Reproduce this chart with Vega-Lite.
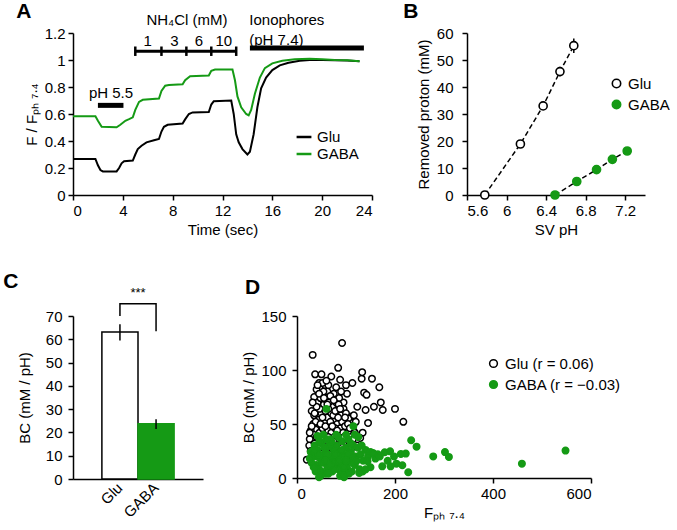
{
  "$schema": "https://vega.github.io/schema/vega-lite/v6.json",
  "background": "white",
  "padding": {"left": 3, "top": 0, "right": 0, "bottom": 3},
  "config": {
    "font": "Liberation Sans",
    "view": {"stroke": null},
    "axis": {"grid": false, "labelOverlap": false, "labelFontSize": 15, "titleFontSize": 15, "titleFontWeight": "normal", "labelColor": "black", "titleColor": "black", "domainColor": "black", "tickColor": "black", "domainWidth": 1.5, "tickWidth": 1.5, "tickSize": 5, "labelPadding": 3},
    "legend": {"labelFontSize": 15, "labelColor": "black"},
    "title": {"fontSize": 21, "fontWeight": "bold", "anchor": "start", "frame": "bounds", "color": "black"}
  },
  "resolve": {"scale": {"color": "independent", "fill": "independent", "stroke": "independent"}, "legend": {"color": "independent", "fill": "independent", "stroke": "independent"}},
  "spacing": 33,
  "vconcat": [
    {
      "spacing": 30,
      "resolve": {"scale": {"color": "independent", "fill": "independent", "stroke": "independent"}, "legend": {"color": "independent", "fill": "independent", "stroke": "independent"}},
      "hconcat": [
        {
          "title": {"text": "A", "dy": 13, "dx": -8},
          "width": 299, "height": 162,
          "layer": [
            {
              "data": {"values": [
                {"t":0,"v":0.267,"s":"Glu"},{"t":1.8,"v":0.267,"s":"Glu"},{"t":2.0,"v":0.22,"s":"Glu"},{"t":2.2,"v":0.185,"s":"Glu"},{"t":2.4,"v":0.175,"s":"Glu"},{"t":3.5,"v":0.175,"s":"Glu"},{"t":3.7,"v":0.2,"s":"Glu"},{"t":3.9,"v":0.235,"s":"Glu"},{"t":4.1,"v":0.25,"s":"Glu"},{"t":4.8,"v":0.255,"s":"Glu"},{"t":5.0,"v":0.3,"s":"Glu"},{"t":5.2,"v":0.34,"s":"Glu"},{"t":5.5,"v":0.365,"s":"Glu"},{"t":5.9,"v":0.39,"s":"Glu"},{"t":6.5,"v":0.405,"s":"Glu"},{"t":6.9,"v":0.415,"s":"Glu"},{"t":7.1,"v":0.47,"s":"Glu"},{"t":7.3,"v":0.505,"s":"Glu"},{"t":7.6,"v":0.52,"s":"Glu"},{"t":8.8,"v":0.53,"s":"Glu"},{"t":9.0,"v":0.56,"s":"Glu"},{"t":9.3,"v":0.6,"s":"Glu"},{"t":9.6,"v":0.612,"s":"Glu"},{"t":10.9,"v":0.615,"s":"Glu"},{"t":11.1,"v":0.67,"s":"Glu"},{"t":11.3,"v":0.695,"s":"Glu"},{"t":12.7,"v":0.7,"s":"Glu"},{"t":12.9,"v":0.6,"s":"Glu"},{"t":13.1,"v":0.45,"s":"Glu"},{"t":13.3,"v":0.39,"s":"Glu"},{"t":13.6,"v":0.34,"s":"Glu"},{"t":14.0,"v":0.3,"s":"Glu"},{"t":14.2,"v":0.32,"s":"Glu"},{"t":14.5,"v":0.45,"s":"Glu"},{"t":14.8,"v":0.65,"s":"Glu"},{"t":15.1,"v":0.79,"s":"Glu"},{"t":15.5,"v":0.87,"s":"Glu"},{"t":16.0,"v":0.925,"s":"Glu"},{"t":16.6,"v":0.96,"s":"Glu"},{"t":17.3,"v":0.98,"s":"Glu"},{"t":18.2,"v":0.995,"s":"Glu"},{"t":19,"v":1.0,"s":"Glu"},{"t":20,"v":1.0,"s":"Glu"},{"t":21,"v":0.998,"s":"Glu"},{"t":22,"v":0.997,"s":"Glu"},{"t":23,"v":0.99,"s":"Glu"},
                {"t":0,"v":0.583,"s":"GABA"},{"t":1.8,"v":0.583,"s":"GABA"},{"t":2.0,"v":0.55,"s":"GABA"},{"t":2.3,"v":0.505,"s":"GABA"},{"t":3.5,"v":0.502,"s":"GABA"},{"t":3.8,"v":0.52,"s":"GABA"},{"t":4.2,"v":0.55,"s":"GABA"},{"t":4.5,"v":0.562,"s":"GABA"},{"t":4.8,"v":0.575,"s":"GABA"},{"t":5.0,"v":0.63,"s":"GABA"},{"t":5.3,"v":0.69,"s":"GABA"},{"t":5.6,"v":0.705,"s":"GABA"},{"t":6.9,"v":0.715,"s":"GABA"},{"t":7.1,"v":0.77,"s":"GABA"},{"t":7.4,"v":0.81,"s":"GABA"},{"t":7.7,"v":0.815,"s":"GABA"},{"t":8.8,"v":0.82,"s":"GABA"},{"t":9.0,"v":0.85,"s":"GABA"},{"t":9.4,"v":0.88,"s":"GABA"},{"t":10.9,"v":0.885,"s":"GABA"},{"t":11.1,"v":0.92,"s":"GABA"},{"t":11.4,"v":0.93,"s":"GABA"},{"t":12.8,"v":0.93,"s":"GABA"},{"t":13.0,"v":0.85,"s":"GABA"},{"t":13.2,"v":0.73,"s":"GABA"},{"t":13.5,"v":0.65,"s":"GABA"},{"t":13.9,"v":0.6,"s":"GABA"},{"t":14.1,"v":0.59,"s":"GABA"},{"t":14.3,"v":0.63,"s":"GABA"},{"t":14.6,"v":0.75,"s":"GABA"},{"t":15.0,"v":0.87,"s":"GABA"},{"t":15.4,"v":0.94,"s":"GABA"},{"t":16.0,"v":0.975,"s":"GABA"},{"t":16.8,"v":0.995,"s":"GABA"},{"t":17.8,"v":1.005,"s":"GABA"},{"t":19,"v":1.01,"s":"GABA"},{"t":20,"v":1.005,"s":"GABA"},{"t":21,"v":1.0,"s":"GABA"},{"t":22,"v":0.998,"s":"GABA"},{"t":23,"v":0.99,"s":"GABA"}
              ]},
              "mark": {"type": "line", "strokeWidth": 2},
              "encoding": {
                "x": {"field": "t", "type": "quantitative", "scale": {"domain": [0, 24], "nice": false}, "axis": {"values": [0,4,8,12,16,20,24], "tickCount": 30, "labelOverlap": false, "title": "Time (sec)"}},
                "y": {"field": "v", "type": "quantitative", "scale": {"domain": [0, 1.2], "nice": false}, "axis": {"values": [0,0.2,0.4,0.6,0.8,1,1.2], "tickCount": 30, "labelOverlap": false, "labelExpr": "format(datum.value, '~g')", "title": "F / Fₚₕ ₇.₄", "titlePadding": 5, "labelPadding": 3}},
                "color": {"field": "s", "type": "nominal", "scale": {"domain": ["Glu", "GABA"], "range": ["black", "#159a15"]},
                  "legend": {"title": null, "orient": "none", "legendX": 222, "legendY": 95, "symbolType": "stroke", "symbolSize": 220, "symbolStrokeWidth": 2.5, "rowPadding": 0}}
              }
            },
            {
              "data": {"values": [
                {"x1": 2.0, "x2": 4.05, "y": 0.664, "w": 5},
                {"x1": 5.0, "x2": 13.1, "y": 1.064, "w": 3},
                {"x1": 14.2, "x2": 23.35, "y": 1.089, "w": 5}
              ]},
              "mark": {"type": "rule", "color": "black", "clip": false},
              "encoding": {
                "x": {"field": "x1", "type": "quantitative"},
                "x2": {"field": "x2"},
                "y": {"field": "y", "type": "quantitative"},
                "strokeWidth": {"field": "w", "type": "quantitative", "scale": null}
              }
            },
            {
              "data": {"values": [
                {"x": 5.0, "y1": 1.03, "y2": 1.1},
                {"x": 7.1, "y1": 1.03, "y2": 1.1},
                {"x": 9.1, "y1": 1.03, "y2": 1.1},
                {"x": 11.1, "y1": 1.03, "y2": 1.1},
                {"x": 13.1, "y1": 1.03, "y2": 1.1}
              ]},
              "mark": {"type": "rule", "color": "black", "strokeWidth": 2.5, "clip": false},
              "encoding": {
                "x": {"field": "x", "type": "quantitative"},
                "y": {"field": "y1", "type": "quantitative"},
                "y2": {"field": "y2"}
              }
            },
            {
              "data": {"values": [
                {"x": 3.05, "y": 0.755, "label": "pH 5.5"},
                {"x": 6.0, "y": 1.138, "label": "1"},
                {"x": 8.15, "y": 1.138, "label": "3"},
                {"x": 10.1, "y": 1.138, "label": "6"},
                {"x": 12.1, "y": 1.138, "label": "10"},
                {"x": 9.15, "y": 1.3, "label": "NH₄Cl (mM)"}
              ]},
              "mark": {"type": "text", "fontSize": 15, "color": "black", "baseline": "middle", "align": "center", "clip": false},
              "encoding": {
                "x": {"field": "x", "type": "quantitative"},
                "y": {"field": "y", "type": "quantitative"},
                "text": {"field": "label"}
              }
            },
            {
              "data": {"values": [
                {"x": 14.15, "y": 1.3, "label": "Ionophores"},
                {"x": 14.15, "y": 1.15, "label": "(pH 7.4)"}
              ]},
              "mark": {"type": "text", "fontSize": 15, "color": "black", "baseline": "middle", "align": "left", "clip": false},
              "encoding": {
                "x": {"field": "x", "type": "quantitative"},
                "y": {"field": "y", "type": "quantitative"},
                "text": {"field": "label"}
              }
            }
          ]
        },
        {
          "title": {"text": "B", "dy": 0, "dx": -13},
          "width": 178, "height": 162,
          "layer": [
            {
              "data": {"values": [
                {"ph": 5.78, "p": 0, "s": "Glu"}, {"ph": 6.14, "p": 18.9, "s": "Glu"}, {"ph": 6.37, "p": 33, "s": "Glu"}, {"ph": 6.54, "p": 45.7, "s": "Glu"}, {"ph": 6.68, "p": 55.3, "s": "Glu"},
                {"ph": 6.49, "p": 0, "s": "GABA"}, {"ph": 6.71, "p": 5, "s": "GABA"}, {"ph": 6.91, "p": 9.4, "s": "GABA"}, {"ph": 7.07, "p": 13.2, "s": "GABA"}, {"ph": 7.22, "p": 16.3, "s": "GABA"}
              ]},
              "mark": {"type": "line", "color": "black", "strokeWidth": 1.5, "strokeDash": [5, 3]},
              "encoding": {
                "x": {"field": "ph", "type": "quantitative", "scale": {"domain": [5.6, 7.4], "nice": false}},
                "y": {"field": "p", "type": "quantitative", "scale": {"domain": [0, 60], "nice": false}},
                "detail": {"field": "s"}
              }
            },
            {
              "data": {"values": [
                {"ph": 6.54, "lo": 44, "hi": 47.5}, {"ph": 6.68, "lo": 52.6, "hi": 58}, {"ph": 6.37, "lo": 31.5, "hi": 34.5}
              ]},
              "mark": {"type": "rule", "color": "black", "strokeWidth": 1.5},
              "encoding": {
                "x": {"field": "ph", "type": "quantitative"},
                "y": {"field": "lo", "type": "quantitative"},
                "y2": {"field": "hi"}
              }
            },
            {
              "data": {"values": [
                {"ph": 5.78, "p": 0, "s": "Glu"}, {"ph": 6.14, "p": 18.9, "s": "Glu"}, {"ph": 6.37, "p": 33, "s": "Glu"}, {"ph": 6.54, "p": 45.7, "s": "Glu"}, {"ph": 6.68, "p": 55.3, "s": "Glu"},
                {"ph": 6.49, "p": 0, "s": "GABA"}, {"ph": 6.71, "p": 5, "s": "GABA"}, {"ph": 6.91, "p": 9.4, "s": "GABA"}, {"ph": 7.07, "p": 13.2, "s": "GABA"}, {"ph": 7.22, "p": 16.3, "s": "GABA"}
              ]},
              "mark": {"type": "point", "shape": "circle", "filled": true, "size": 65, "strokeWidth": 1.6, "opacity": 1, "clip": false},
              "encoding": {
                "x": {"field": "ph", "type": "quantitative", "scale": {"domain": [5.6, 7.4], "nice": false}, "axis": {"values": [5.6, 6, 6.4, 6.8, 7.2], "tickCount": 30, "labelOverlap": false, "labelExpr": "format(datum.value, '~g')", "title": "SV pH"}},
                "y": {"field": "p", "type": "quantitative", "scale": {"domain": [0, 60], "nice": false}, "axis": {"values": [0,10,20,30,40,50,60], "tickCount": 30, "labelOverlap": false, "title": "Removed proton (mM)", "titlePadding": 5, "labelPadding": 9}},
                "fill": {"field": "s", "type": "nominal", "scale": {"domain": ["Glu", "GABA"], "range": ["white", "#159a15"]}, "legend": {"title": null, "orient": "none", "legendX": 142, "legendY": 43, "symbolSize": 70, "symbolStrokeWidth": 1.6, "rowPadding": 5}},
                "stroke": {"field": "s", "type": "nominal", "scale": {"domain": ["Glu", "GABA"], "range": ["black", "#159a15"]}, "legend": {"title": null, "orient": "none", "legendX": 142, "legendY": 43, "symbolSize": 70, "symbolStrokeWidth": 1.6, "rowPadding": 5}}
              }
            }
          ]
        }
      ]
    },
    {
      "spacing": 38,
      "resolve": {"scale": {"color": "independent", "fill": "independent", "stroke": "independent"}, "legend": {"color": "independent", "fill": "independent", "stroke": "independent"}},
      "hconcat": [
        {
          "title": {"text": "C", "dy": 9, "dx": -14},
          "width": 130, "height": 163,
          "layer": [
            {
              "data": {"values": [{"g": "Glu", "m": 63.1}, {"g": "GABA", "m": 23.7}]},
              "mark": {"type": "bar", "strokeWidth": 1.5},
              "encoding": {
                "x": {"field": "g", "type": "nominal", "sort": ["Glu", "GABA"], "scale": {"paddingInner": 0, "paddingOuter": 0.8}, "axis": {"title": null, "labelAngle": -45, "labelAlign": "right", "labelBaseline": "middle", "ticks": false, "labelPadding": 6}},
                "y": {"field": "m", "type": "quantitative", "scale": {"domain": [0, 70], "nice": false}, "axis": {"values": [0,10,20,30,40,50,60,70], "tickCount": 30, "labelOverlap": false, "title": "BC (mM / pH)", "titlePadding": 13, "labelPadding": 6}},
                "fill": {"field": "g", "type": "nominal", "scale": {"domain": ["Glu", "GABA"], "range": ["white", "#159a15"]}, "legend": null},
                "stroke": {"field": "g", "type": "nominal", "scale": {"domain": ["Glu", "GABA"], "range": ["black", "#159a15"]}, "legend": null}
              }
            },
            {
              "data": {"values": [{"g": "Glu", "lo": 59.5, "hi": 66.5}, {"g": "GABA", "lo": 21.5, "hi": 25.7}]},
              "mark": {"type": "rule", "color": "black", "strokeWidth": 1.5},
              "encoding": {
                "x": {"field": "g", "type": "nominal", "sort": ["Glu", "GABA"]},
                "y": {"field": "lo", "type": "quantitative"},
                "y2": {"field": "hi"}
              }
            },
            {
              "data": {"values": [{"g": "Glu", "y": 70, "o": 1}, {"g": "Glu", "y": 75.3, "o": 2}, {"g": "GABA", "y": 75.3, "o": 3}, {"g": "GABA", "y": 63.5, "o": 4}]},
              "mark": {"type": "line", "color": "black", "strokeWidth": 1.5, "clip": false},
              "encoding": {
                "x": {"field": "g", "type": "nominal", "sort": ["Glu", "GABA"]},
                "y": {"field": "y", "type": "quantitative"},
                "order": {"field": "o"}
              }
            },
            {
              "data": {"values": [{"g": "Glu", "y": 77, "label": "***"}]},
              "mark": {"type": "text", "fontSize": 13, "color": "black", "baseline": "bottom", "clip": false},
              "encoding": {
                "x": {"field": "g", "type": "nominal", "sort": ["Glu", "GABA"], "bandPosition": 1},
                "y": {"field": "y", "type": "quantitative"},
                "text": {"field": "label"}
              }
            }
          ]
        },
        {
          "title": {"text": "D", "dy": -7, "dx": 3},
          "width": 294, "height": 162,
          "data": {"values": [
            {"f":32,"bc":114,"s":"Glu"},{"f":92,"bc":125,"s":"Glu"},{"f":84,"bc":102,"s":"Glu"},{"f":37,"bc":96,"s":"Glu"},{"f":50,"bc":96,"s":"Glu"},{"f":70,"bc":94,"s":"Glu"},{"f":88,"bc":91,"s":"Glu"},{"f":45,"bc":88,"s":"Glu"},{"f":57,"bc":86,"s":"Glu"},{"f":40,"bc":82,"s":"Glu"},{"f":62,"bc":80,"s":"Glu"},{"f":75,"bc":78,"s":"Glu"},{"f":100,"bc":86,"s":"Glu"},{"f":113,"bc":88,"s":"Glu"},{"f":132,"bc":92,"s":"Glu"},{"f":133,"bc":98,"s":"Glu"},{"f":153,"bc":92,"s":"Glu"},{"f":168,"bc":84,"s":"Glu"},{"f":171,"bc":70,"s":"Glu"},{"f":175,"bc":63,"s":"Glu"},{"f":200,"bc":64,"s":"Glu"},{"f":217,"bc":52,"s":"Glu"},{"f":145,"bc":51,"s":"Glu"},{"f":137,"bc":79,"s":"Glu"},{"f":142,"bc":77,"s":"Glu"},{"f":123,"bc":66,"s":"Glu"},{"f":140,"bc":63,"s":"Glu"},{"f":157,"bc":66,"s":"Glu"},{"f":134,"bc":42,"s":"Glu"},{"f":129,"bc":37,"s":"Glu"},{"f":111,"bc":57,"s":"Glu"},{"f":120,"bc":52,"s":"Glu"},{"f":102,"bc":78,"s":"Glu"},{"f":95,"bc":70,"s":"Glu"},
            {"f":30,"bc":62,"s":"Glu"},{"f":35,"bc":58,"s":"Glu"},{"f":42,"bc":70,"s":"Glu"},{"f":48,"bc":74,"s":"Glu"},{"f":55,"bc":68,"s":"Glu"},{"f":60,"bc":72,"s":"Glu"},{"f":68,"bc":76,"s":"Glu"},{"f":72,"bc":66,"s":"Glu"},{"f":80,"bc":70,"s":"Glu"},{"f":85,"bc":62,"s":"Glu"},{"f":90,"bc":58,"s":"Glu"},{"f":95,"bc":64,"s":"Glu"},{"f":100,"bc":60,"s":"Glu"},{"f":105,"bc":55,"s":"Glu"},{"f":110,"bc":48,"s":"Glu"},{"f":115,"bc":44,"s":"Glu"},{"f":33,"bc":50,"s":"Glu"},{"f":38,"bc":45,"s":"Glu"},{"f":44,"bc":54,"s":"Glu"},{"f":50,"bc":60,"s":"Glu"},{"f":56,"bc":52,"s":"Glu"},{"f":62,"bc":56,"s":"Glu"},{"f":66,"bc":48,"s":"Glu"},{"f":70,"bc":60,"s":"Glu"},{"f":76,"bc":54,"s":"Glu"},{"f":82,"bc":50,"s":"Glu"},{"f":88,"bc":46,"s":"Glu"},{"f":92,"bc":52,"s":"Glu"},{"f":98,"bc":48,"s":"Glu"},{"f":104,"bc":42,"s":"Glu"},{"f":108,"bc":38,"s":"Glu"},{"f":28,"bc":44,"s":"Glu"},{"f":30,"bc":35,"s":"Glu"},{"f":34,"bc":40,"s":"Glu"},{"f":40,"bc":38,"s":"Glu"},{"f":46,"bc":42,"s":"Glu"},{"f":52,"bc":46,"s":"Glu"},{"f":58,"bc":40,"s":"Glu"},{"f":64,"bc":44,"s":"Glu"},{"f":70,"bc":42,"s":"Glu"},{"f":76,"bc":38,"s":"Glu"},{"f":82,"bc":36,"s":"Glu"},{"f":88,"bc":40,"s":"Glu"},{"f":94,"bc":34,"s":"Glu"},{"f":100,"bc":30,"s":"Glu"},{"f":106,"bc":34,"s":"Glu"},{"f":112,"bc":28,"s":"Glu"},{"f":25,"bc":30,"s":"Glu"},{"f":28,"bc":25,"s":"Glu"},{"f":32,"bc":22,"s":"Glu"},{"f":38,"bc":28,"s":"Glu"},{"f":44,"bc":32,"s":"Glu"},{"f":50,"bc":34,"s":"Glu"},{"f":56,"bc":30,"s":"Glu"},{"f":62,"bc":35,"s":"Glu"},{"f":68,"bc":30,"s":"Glu"},{"f":74,"bc":26,"s":"Glu"},{"f":80,"bc":28,"s":"Glu"},{"f":86,"bc":24,"s":"Glu"},{"f":92,"bc":22,"s":"Glu"},{"f":98,"bc":26,"s":"Glu"},{"f":20,"bc":17,"s":"Glu"},{"f":26,"bc":36,"s":"Glu"},{"f":36,"bc":60,"s":"Glu"},{"f":46,"bc":64,"s":"Glu"},{"f":54,"bc":80,"s":"Glu"},{"f":64,"bc":64,"s":"Glu"},{"f":74,"bc":58,"s":"Glu"},{"f":84,"bc":56,"s":"Glu"},{"f":94,"bc":42,"s":"Glu"},{"f":60,"bc":28,"s":"Glu"},{"f":66,"bc":22,"s":"Glu"},{"f":72,"bc":20,"s":"Glu"},{"f":48,"bc":24,"s":"Glu"},{"f":42,"bc":20,"s":"Glu"},{"f":78,"bc":46,"s":"Glu"},{"f":58,"bc":62,"s":"Glu"},{"f":40,"bc":66,"s":"Glu"},{"f":86,"bc":74,"s":"Glu"},{"f":64,"bc":86,"s":"Glu"},{"f":52,"bc":88,"s":"Glu"},
            {"f":35,"bc":75,"s":"Glu"},{"f":45,"bc":78,"s":"Glu"},{"f":55,"bc":74,"s":"Glu"},{"f":65,"bc":70,"s":"Glu"},{"f":75,"bc":72,"s":"Glu"},{"f":85,"bc":68,"s":"Glu"},{"f":38,"bc":52,"s":"Glu"},{"f":48,"bc":50,"s":"Glu"},{"f":58,"bc":48,"s":"Glu"},{"f":68,"bc":52,"s":"Glu"},{"f":78,"bc":62,"s":"Glu"},{"f":88,"bc":64,"s":"Glu"},{"f":98,"bc":56,"s":"Glu"},{"f":104,"bc":50,"s":"Glu"},{"f":30,"bc":48,"s":"Glu"},{"f":36,"bc":32,"s":"Glu"},{"f":46,"bc":28,"s":"Glu"},{"f":54,"bc":38,"s":"Glu"},{"f":64,"bc":38,"s":"Glu"},{"f":74,"bc":34,"s":"Glu"},{"f":84,"bc":30,"s":"Glu"},{"f":90,"bc":32,"s":"Glu"},{"f":96,"bc":38,"s":"Glu"},{"f":102,"bc":24,"s":"Glu"},{"f":108,"bc":46,"s":"Glu"},{"f":114,"bc":36,"s":"Glu"},{"f":118,"bc":42,"s":"Glu"},{"f":122,"bc":30,"s":"Glu"},{"f":42,"bc":86,"s":"Glu"},{"f":60,"bc":90,"s":"Glu"},{"f":80,"bc":84,"s":"Glu"},{"f":90,"bc":80,"s":"Glu"},{"f":32,"bc":70,"s":"Glu"},{"f":52,"bc":56,"s":"Glu"},{"f":62,"bc":68,"s":"Glu"},{"f":72,"bc":48,"s":"Glu"},{"f":82,"bc":44,"s":"Glu"},{"f":92,"bc":28,"s":"Glu"},{"f":26,"bc":42,"s":"Glu"},{"f":116,"bc":58,"s":"Glu"},
            {"f":28,"bc":24,"s":"GABA"},{"f":32,"bc":20,"s":"GABA"},{"f":36,"bc":30,"s":"GABA"},{"f":40,"bc":12,"s":"GABA"},{"f":42,"bc":26,"s":"GABA"},{"f":45,"bc":8,"s":"GABA"},{"f":48,"bc":18,"s":"GABA"},{"f":50,"bc":32,"s":"GABA"},{"f":52,"bc":14,"s":"GABA"},{"f":55,"bc":22,"s":"GABA"},{"f":58,"bc":4,"s":"GABA"},{"f":60,"bc":28,"s":"GABA"},{"f":62,"bc":10,"s":"GABA"},{"f":65,"bc":16,"s":"GABA"},{"f":68,"bc":36,"s":"GABA"},{"f":70,"bc":20,"s":"GABA"},{"f":72,"bc":6,"s":"GABA"},{"f":75,"bc":26,"s":"GABA"},{"f":78,"bc":12,"s":"GABA"},{"f":80,"bc":30,"s":"GABA"},{"f":82,"bc":18,"s":"GABA"},{"f":85,"bc":8,"s":"GABA"},{"f":88,"bc":24,"s":"GABA"},{"f":90,"bc":14,"s":"GABA"},{"f":92,"bc":34,"s":"GABA"},{"f":95,"bc":4,"s":"GABA"},{"f":98,"bc":20,"s":"GABA"},{"f":100,"bc":28,"s":"GABA"},{"f":102,"bc":10,"s":"GABA"},{"f":105,"bc":36,"s":"GABA"},{"f":108,"bc":16,"s":"GABA"},{"f":110,"bc":24,"s":"GABA"},{"f":112,"bc":6,"s":"GABA"},{"f":115,"bc":30,"s":"GABA"},{"f":118,"bc":12,"s":"GABA"},{"f":120,"bc":20,"s":"GABA"},{"f":125,"bc":38,"s":"GABA"},{"f":128,"bc":8,"s":"GABA"},{"f":130,"bc":22,"s":"GABA"},{"f":135,"bc":16,"s":"GABA"},{"f":140,"bc":26,"s":"GABA"},{"f":30,"bc":14,"s":"GABA"},{"f":38,"bc":6,"s":"GABA"},{"f":46,"bc":34,"s":"GABA"},{"f":54,"bc":40,"s":"GABA"},{"f":62,"bc":22,"s":"GABA"},{"f":66,"bc":30,"s":"GABA"},{"f":74,"bc":14,"s":"GABA"},{"f":84,"bc":38,"s":"GABA"},{"f":94,"bc":18,"s":"GABA"},{"f":104,"bc":22,"s":"GABA"},{"f":114,"bc":14,"s":"GABA"},{"f":124,"bc":28,"s":"GABA"},{"f":134,"bc":6,"s":"GABA"},{"f":40,"bc":20,"s":"GABA"},{"f":58,"bc":16,"s":"GABA"},{"f":78,"bc":22,"s":"GABA"},{"f":96,"bc":10,"s":"GABA"},{"f":106,"bc":4,"s":"GABA"},{"f":116,"bc":18,"s":"GABA"},{"f":60,"bc":64,"s":"GABA"},{"f":115,"bc":48,"s":"GABA"},{"f":42,"bc":39,"s":"GABA"},{"f":150,"bc":24,"s":"GABA"},{"f":160,"bc":18,"s":"GABA"},{"f":165,"bc":22,"s":"GABA"},{"f":150,"bc":10,"s":"GABA"},{"f":140,"bc":8,"s":"GABA"},
            {"f":26,"bc":18,"s":"GABA"},{"f":34,"bc":10,"s":"GABA"},{"f":44,"bc":22,"s":"GABA"},{"f":50,"bc":6,"s":"GABA"},{"f":56,"bc":28,"s":"GABA"},{"f":64,"bc":4,"s":"GABA"},{"f":70,"bc":34,"s":"GABA"},{"f":76,"bc":8,"s":"GABA"},{"f":86,"bc":16,"s":"GABA"},{"f":92,"bc":26,"s":"GABA"},{"f":100,"bc":16,"s":"GABA"},{"f":110,"bc":32,"s":"GABA"},{"f":122,"bc":16,"s":"GABA"},{"f":132,"bc":30,"s":"GABA"},{"f":145,"bc":20,"s":"GABA"},{"f":34,"bc":26,"s":"GABA"},{"f":48,"bc":2,"s":"GABA"},{"f":68,"bc":12,"s":"GABA"},{"f":88,"bc":2,"s":"GABA"},{"f":118,"bc":40,"s":"GABA"},{"f":80,"bc":40,"s":"GABA"},{"f":100,"bc":40,"s":"GABA"},{"f":60,"bc":36,"s":"GABA"},
            {"f":233,"bc":35,"s":"GABA"},{"f":244,"bc":29,"s":"GABA"},{"f":278,"bc":20,"s":"GABA"},{"f":302,"bc":24,"s":"GABA"},{"f":310,"bc":19.5,"s":"GABA"},{"f":459,"bc":13.3,"s":"GABA"},{"f":548,"bc":25.4,"s":"GABA"},{"f":227,"bc":5.3,"s":"GABA"},{"f":212,"bc":22.3,"s":"GABA"},{"f":222,"bc":22.6,"s":"GABA"},{"f":203,"bc":13.3,"s":"GABA"},{"f":179,"bc":23.8,"s":"GABA"},{"f":190,"bc":24.7,"s":"GABA"},{"f":169,"bc":20,"s":"GABA"},{"f":155,"bc":23.2,"s":"GABA"},{"f":144,"bc":15.5,"s":"GABA"},{"f":127,"bc":4.6,"s":"GABA"},{"f":96,"bc":0.8,"s":"GABA"},{"f":45,"bc":0.8,"s":"GABA"},{"f":174,"bc":10.8,"s":"GABA"},{"f":191,"bc":10.8,"s":"GABA"},{"f":215,"bc":11.8,"s":"GABA"},{"f":198,"bc":20,"s":"GABA"},{"f":185,"bc":16,"s":"GABA"}
          ]},
          "mark": {"type": "point", "shape": "circle", "filled": true, "size": 42, "strokeWidth": 1.5, "opacity": 1, "clip": false},
          "encoding": {
            "x": {"field": "f", "type": "quantitative", "scale": {"domain": [0, 600], "nice": false}, "axis": {"values": [0, 200, 400, 600], "tickCount": 30, "labelOverlap": false, "title": "Fₚₕ ₇.₄"}},
            "y": {"field": "bc", "type": "quantitative", "scale": {"domain": [0, 150], "nice": false}, "axis": {"values": [0, 50, 100, 150], "tickCount": 30, "labelOverlap": false, "title": "BC (mM / pH)", "titlePadding": 4, "labelPadding": 6}},
            "order": {"field": "s", "sort": "descending"},
            "fill": {"field": "s", "type": "nominal", "scale": {"domain": ["Glu", "GABA"], "range": ["white", "#159a15"]}, "legend": {"title": null, "orient": "none", "legendX": 189, "legendY": 40, "symbolSize": 60, "symbolStrokeWidth": 1.5, "rowPadding": 5, "labelExpr": "datum.label == 'Glu' ? 'Glu (r = 0.06)' : 'GABA (r = −0.03)'"}},
            "stroke": {"field": "s", "type": "nominal", "scale": {"domain": ["Glu", "GABA"], "range": ["black", "#159a15"]}, "legend": {"title": null, "orient": "none", "legendX": 189, "legendY": 40, "symbolSize": 60, "symbolStrokeWidth": 1.5, "rowPadding": 5, "labelExpr": "datum.label == 'Glu' ? 'Glu (r = 0.06)' : 'GABA (r = −0.03)'"}}
          }
        }
      ]
    }
  ]
}
